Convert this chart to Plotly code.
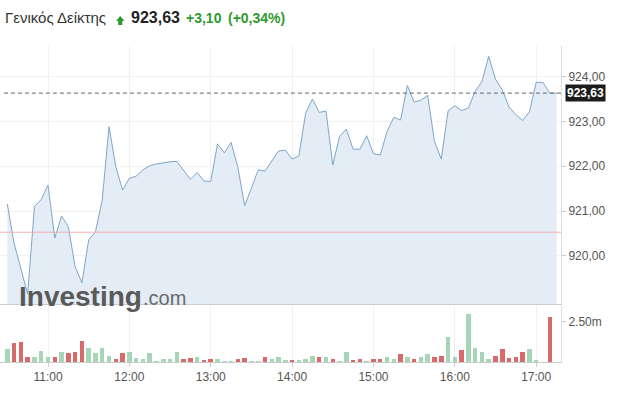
import plotly.graph_objects as go
from plotly.subplots import make_subplots

# 5-minute bars, ATHEX general index, intraday
times = [
    "10:30", "10:35", "10:40", "10:45", "10:50", "10:55", "11:00", "11:05", "11:10", "11:15",
    "11:20", "11:25", "11:30", "11:35", "11:40", "11:45", "11:50", "11:55", "12:00", "12:05",
    "12:10", "12:15", "12:20", "12:25", "12:30", "12:35", "12:40", "12:45", "12:50", "12:55",
    "13:00", "13:05", "13:10", "13:15", "13:20", "13:25", "13:30", "13:35", "13:40", "13:45",
    "13:50", "13:55", "14:00", "14:05", "14:10", "14:15", "14:20", "14:25", "14:30", "14:35",
    "14:40", "14:45", "14:50", "14:55", "15:00", "15:05", "15:10", "15:15", "15:20", "15:25",
    "15:30", "15:35", "15:40", "15:45", "15:50", "15:55", "16:00", "16:05", "16:10", "16:15",
    "16:20", "16:25", "16:30", "16:35", "16:40", "16:45", "16:50", "16:55", "17:00", "17:05",
    "17:10", "17:15",
]

price = [
    921.16, 920.28, 919.72, 919.15, 921.10, 921.26, 921.58, 920.40, 920.89, 920.65,
    919.76, 919.40, 920.36, 920.54, 921.25, 922.88, 921.99, 921.47, 921.73, 921.78,
    921.92, 922.01, 922.05, 922.08, 922.10, 922.11, 921.92, 921.71, 921.86, 921.67,
    921.66, 922.50, 922.30, 922.53, 921.98, 921.12, 921.51, 921.92, 921.89, 922.12,
    922.34, 922.36, 922.16, 922.23, 923.18, 923.50, 923.20, 923.23, 922.03, 922.66,
    922.83, 922.38, 922.38, 922.68, 922.28, 922.25, 922.77, 923.09, 923.03, 923.80,
    923.43, 923.47, 923.58, 922.55, 922.16, 923.23, 923.35, 923.24, 923.30, 923.67,
    923.89, 924.45, 923.94, 923.70, 923.32, 923.15, 923.02, 923.21, 923.87, 923.87,
    923.63, 923.63,
]

# volume in millions
volume = [
    0.79, 1.16, 1.22, 0.29, 0.33, 0.70, 0.33, 0.33, 0.64, 0.54,
    0.60, 1.28, 0.89, 0.54, 0.89, 0.39, 0.21, 0.54, 0.64, 0.27,
    0.17, 0.54, 0.04, 0.17, 0.17, 0.64, 0.17, 0.23, 0.33, 0.14,
    0.17, 0.17, 0.06, 0.06, 0.17, 0.23, 0.04, 0.04, 0.29, 0.17,
    0.33, 0.10, 0.10, 0.10, 0.17, 0.39, 0.29, 0.29, 0.17, 0.04,
    0.64, 0.10, 0.17, 0.06, 0.17, 0.17, 0.29, 0.17, 0.48, 0.33,
    0.17, 0.29, 0.48, 0.33, 0.39, 1.53, 0.33, 0.75, 2.98, 0.89,
    0.64, 0.21, 0.39, 0.79, 0.23, 0.29, 0.64, 0.79, 0.10, 0.00,
    2.77, 0.00,
]

# u = up bar, d = down bar (10 per row)
vol_dir = list(
    "uddduuudud"
    "dduuuudduu"
    "uuuuuuddud"
    "duuudduudu"
    "uuduuududu"
    "uddudduudu"
    "duudduuduu"
    "uuddddduuu"
    "du"
)

prev_close = 920.53
last_price = 923.63

day = "2024-05-10 "
x = [day + t for t in times]
vol = [v * 1e6 for v in volume]

GREEN = "#2f9a2f"
UP_BAR = "#a6d6b7"
DOWN_BAR = "#d96a6a"
bar_colors = [UP_BAR if d == "u" else DOWN_BAR for d in vol_dir]

# pixel helpers (plot area 0..561 wide, 46..362 tall)
PW, TOP, BOT = 561, 46, 362


def px_x(p):
    return p / PW


def px_y(p):
    return (BOT - p) / (BOT - TOP)


fig = make_subplots(rows=2, cols=1, shared_xaxes=True, vertical_spacing=0.0)

fig.add_trace(go.Scatter(
    x=x, y=price, mode="lines",
    line=dict(color="#7ea6c8", width=1),
    fill="tozeroy", fillcolor="#e4edf6",
    hoverinfo="skip",
), row=1, col=1)

fig.add_trace(go.Bar(
    x=x, y=vol, marker=dict(color=bar_colors, line=dict(width=0)),
    width=3.3 * 60 * 1000,
    hoverinfo="skip",
), row=2, col=1)

x_range = [day + "10:24:36", day + "17:18:18"]
axis_font = dict(family="Liberation Sans, Arial, sans-serif", size=12, color="#555555")

fig.update_layout(
    width=624, height=400,
    margin=dict(l=0, r=63, t=TOP, b=400 - BOT),
    paper_bgcolor="white", plot_bgcolor="white",
    showlegend=False,
    separators=",.",
    bargap=0,
    xaxis=dict(
        domain=[0, 1], range=x_range, type="date",
        showticklabels=False, showgrid=True, gridcolor="#f0f0f0",
        dtick=3600000, tick0=day + "11:00",
        showline=True, linecolor="#cccccc", linewidth=1,
        zeroline=False,
    ),
    xaxis2=dict(
        domain=[0, 1], range=x_range, type="date",
        showgrid=True, gridcolor="#f0f0f0",
        dtick=3600000, tick0=day + "11:00", tickformat="%H:%M",
        ticks="outside", ticklen=4, tickcolor="#cccccc",
        showline=True, linecolor="#cccccc", linewidth=1,
        tickfont=axis_font, zeroline=False,
    ),
    yaxis=dict(
        domain=[px_y(304), 1], range=[918.93, 924.68], side="right",
        tickvals=[920, 921, 922, 923, 924], tickformat=".2f",
        showgrid=True, gridcolor="#f2f2f2",
        ticks="outside", ticklen=4, tickcolor="#cccccc",
        showline=True, linecolor="#dddddd", linewidth=1,
        tickfont=axis_font, zeroline=False,
    ),
    yaxis2=dict(
        domain=[0, px_y(306)], range=[0, 3.48e6], side="right",
        tickvals=[2.5e6], ticktext=["2.50m"],
        showgrid=False,
        ticks="outside", ticklen=4, tickcolor="#cccccc",
        showline=True, linecolor="#dddddd", linewidth=1,
        tickfont=axis_font, zeroline=False,
    ),
)

# previous close and last price lines
fig.add_shape(type="line", xref="paper", yref="y", x0=0, x1=1,
              y0=prev_close, y1=prev_close,
              line=dict(color="#f0b0b0", width=1))
fig.add_shape(type="line", xref="paper", yref="y", x0=0.007, x1=1,
              y0=last_price, y1=last_price,
              line=dict(color="#666666", width=1, dash="4px,3px"))

fig.add_annotation(
    x=1, xref="paper", y=last_price, yref="y",
    xanchor="left", yanchor="middle", xshift=4,
    text="<b>923,63</b>", showarrow=False,
    bgcolor="#1c1c1c", borderpad=1,
    font=dict(family="Liberation Sans, Arial, sans-serif", size=12, color="white"),
)

# header
title_font = "Liberation Sans, Arial, sans-serif"
fig.add_annotation(x=px_x(3), y=px_y(18), xref="paper", yref="paper",
                   xanchor="left", yanchor="middle", showarrow=False,
                   text="Γενικός Δείκτης",
                   font=dict(family=title_font, size=15, color="#333333"))

# green up arrow next to the price
ax0, ax1, am = px_x(116), px_x(124.5), px_x(120.25)
sx0, sx1 = px_x(118.2), px_x(122.3)
ay_base, ay_tip, ay_stem = px_y(21), px_y(16), px_y(25)
fig.add_shape(
    type="path", xref="paper", yref="paper",
    path=(f"M {ax0} {ay_base} L {am} {ay_tip} L {ax1} {ay_base} "
          f"L {sx1} {ay_base} L {sx1} {ay_stem} L {sx0} {ay_stem} L {sx0} {ay_base} Z"),
    fillcolor=GREEN, line=dict(width=0),
)

fig.add_annotation(x=px_x(129), y=px_y(18), xref="paper", yref="paper",
                   xanchor="left", yanchor="middle", showarrow=False,
                   text="<b>923,63</b>",
                   font=dict(family=title_font, size=16, color="#222222"))
fig.add_annotation(x=px_x(184), y=px_y(18), xref="paper", yref="paper",
                   xanchor="left", yanchor="middle", showarrow=False,
                   text="<b>+3,10</b>",
                   font=dict(family=title_font, size=14, color=GREEN))
fig.add_annotation(x=px_x(226), y=px_y(18), xref="paper", yref="paper",
                   xanchor="left", yanchor="middle", showarrow=False,
                   text="<b>(+0,34%)</b>",
                   font=dict(family=title_font, size=14, color=GREEN))

# watermark
fig.add_annotation(x=px_x(17), y=px_y(296), xref="paper", yref="paper",
                   xanchor="left", yanchor="middle", showarrow=False,
                   text="<b>Investing</b>",
                   font=dict(family=title_font, size=28, color="#5a5a5a"))
fig.add_annotation(x=px_x(141), y=px_y(298), xref="paper", yref="paper",
                   xanchor="left", yanchor="middle", showarrow=False,
                   text=".com",
                   font=dict(family=title_font, size=20, color="#6a6a6a"))

fig.write_html("out.html", config={"displayModeBar": False},
               post_script="document.body.style.margin='0px';")
